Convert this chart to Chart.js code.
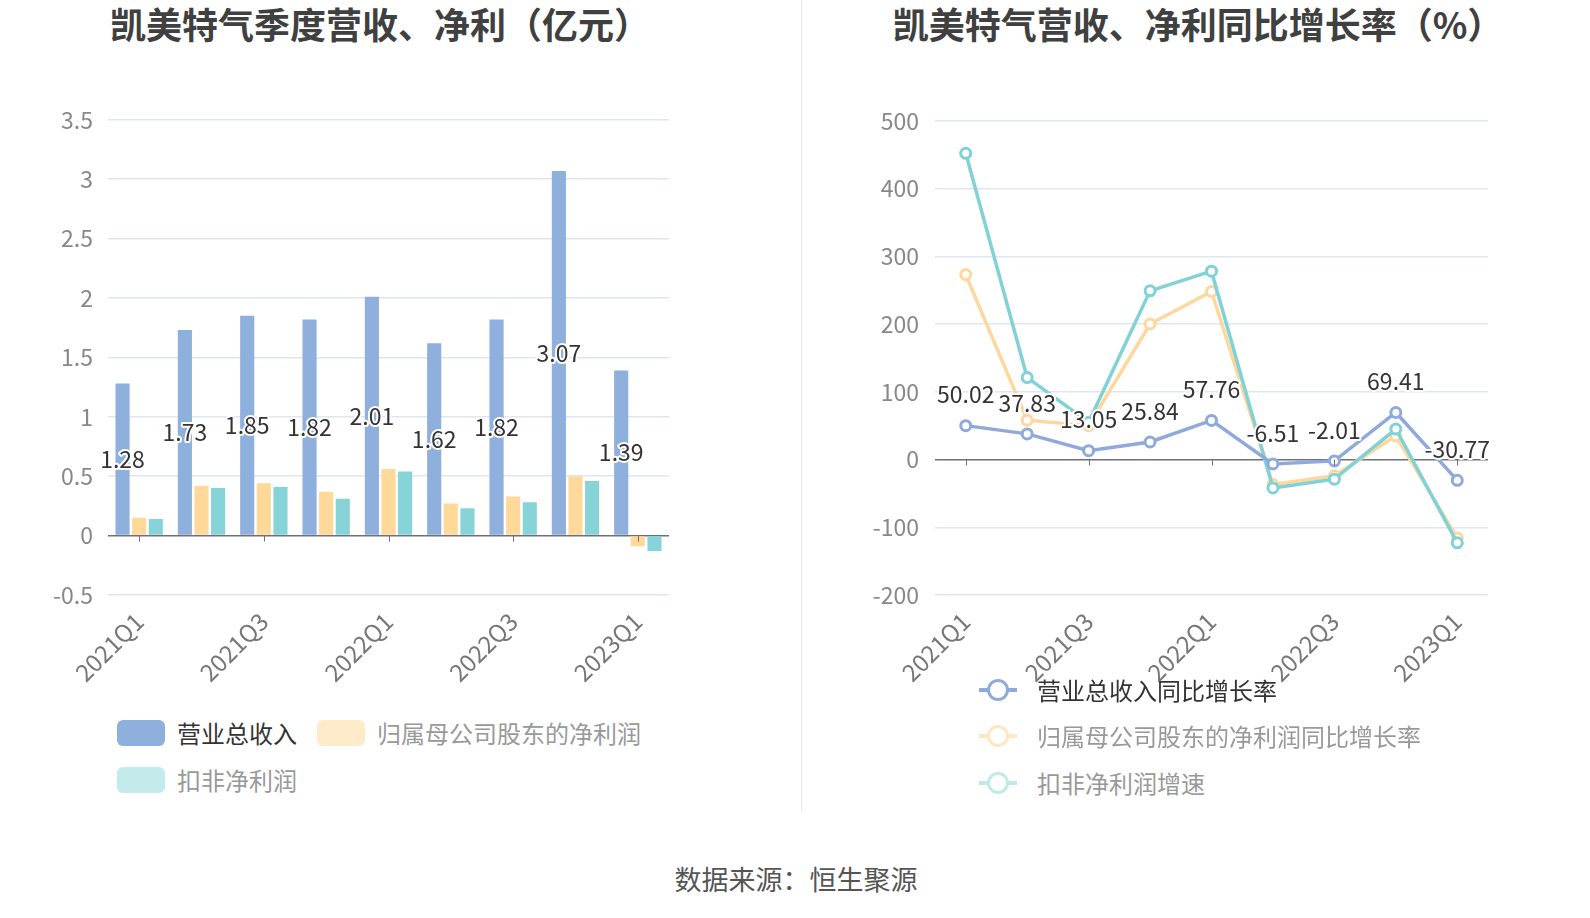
<!DOCTYPE html>
<html>
<head>
<meta charset="utf-8">
<script src="https://cdn.jsdelivr.net/npm/chart.js@4.4.0/dist/chart.umd.min.js"></script>
<style>
    body { margin: 0; width: 1590px; height: 918px; background: #fff; position: relative; overflow: hidden;
           font-family: "Noto Sans CJK SC", "Noto Sans", sans-serif; }
    .title { position: absolute; top: -3px; font-size: 36px; font-weight: bold; color: #404040; white-space: nowrap;
             transform: translateX(-50%); }
    .divider { position: absolute; left: 801px; top: 0; width: 1px; height: 811px; background: #e6e6e6; }
    .box { position: absolute; }
    .legend-item { position: absolute; display: flex; align-items: center; font-size: 24px; color: #999; white-space: nowrap; }
    .legend-item.active { color: #333; }
    .patch { width: 48px; height: 26px; border-radius: 6px; margin-right: 12px; }
    .lineicon { position: relative; width: 38px; height: 24px; margin-right: 20px; }
    .lineicon::before { content: ''; position: absolute; left: 0; right: 0; top: 10px; height: 4px; background: var(--c); }
    .lineicon::after { content: ''; position: absolute; left: 8px; top: 1px; width: 16px; height: 16px; border-radius: 50%;
                       border: 3px solid var(--c); background: #fff; }
    .source { position: absolute; left: 796px; top: 859px; transform: translateX(-50%); font-size: 27px; color: #555; white-space: nowrap; }
</style>
</head>
<body>
<div class="title" style="left:380px">凯美特气季度营收、净利（亿元）</div>
<div class="title" style="left:1198px">凯美特气营收、净利同比增长率（%）</div>
<div class="divider"></div>

<div class="box" style="left:0;top:91px;width:790px;height:600px"><canvas id="barChart"></canvas></div>
<div class="box" style="left:800px;top:91px;width:790px;height:600px"><canvas id="lineChart"></canvas></div>

<div class="legend-item active" style="left:117px;top:715px"><span class="patch" style="background:#8fafdc"></span>营业总收入</div>
<div class="legend-item" style="left:317px;top:715px"><span class="patch" style="background:#ffebc9"></span>归属母公司股东的净利润</div>
<div class="legend-item" style="left:117px;top:762px"><span class="patch" style="background:#c3ebec"></span>扣非净利润</div>

<div class="legend-item active" style="left:979px;top:672px"><span class="lineicon" style="--c:#8eaadc"></span>营业总收入同比增长率</div>
<div class="legend-item" style="left:979px;top:718px"><span class="lineicon" style="--c:#ffe7c2"></span>归属母公司股东的净利润同比增长率</div>
<div class="legend-item" style="left:979px;top:765px"><span class="lineicon" style="--c:#bfe9ea"></span>扣非净利润增速</div>

<div class="source">数据来源：恒生聚源</div>

<script>
const quarters = ['2021Q1', '2021Q2', '2021Q3', '2021Q4', '2022Q1', '2022Q2', '2022Q3', '2022Q4', '2023Q1'];
const revenue = [1.28, 1.73, 1.85, 1.82, 2.01, 1.62, 1.82, 3.07, 1.39];
const netProfit = [0.15, 0.42, 0.44, 0.37, 0.56, 0.27, 0.33, 0.50, -0.09];
const deductedProfit = [0.14, 0.40, 0.41, 0.31, 0.54, 0.23, 0.28, 0.46, -0.13];
const revenueGrowth = [50.02, 37.83, 13.05, 25.84, 57.76, -6.51, -2.01, 69.41, -30.77];
const profitGrowth = [273, 58, 50, 200, 248, -37, -24, 35, -116];
const deductedGrowth = [452, 121, 55, 249, 278, -42, -29, 45, -123];

const colors = {
    blue: '#8fafdc',
    orange: '#ffd99a',
    teal: '#86d4d8',
    lineBlue: '#8eaadc',
    lineOrange: '#ffd79c',
    lineTeal: '#80d2d6',
    grid: '#e0e6f1',
    axis: '#6e7079',
    tick: '#888',
    label: '#333',
};
const FONT = '"Noto Sans CJK SC", "Noto Sans", sans-serif';

Chart.defaults.responsive = true;
Chart.defaults.maintainAspectRatio = false;
Chart.defaults.animation = false;
Chart.defaults.font.family = FONT;

// zero axis line with small tick marks every other category, plus value labels on the first dataset
const decorations = {
    id: 'decorations',
    afterDatasetsDraw(chart, args, opts) {
        const { ctx, scales: { x, y } } = chart;
        const zero = y.getPixelForValue(0);
        ctx.save();
        ctx.strokeStyle = colors.axis;
        ctx.lineWidth = 1;
        for (let i = 0; i < quarters.length; i += 2) {
            const px = Math.round(x.getPixelForValue(i)) + 0.5;
            ctx.beginPath();
            ctx.moveTo(px, zero);
            ctx.lineTo(px, zero + 6);
            ctx.stroke();
        }
        const meta = chart.getDatasetMeta(0);
        const values = chart.data.datasets[0].data;
        ctx.font = '23px ' + FONT;
        ctx.textAlign = 'center';
        ctx.textBaseline = 'middle';
        ctx.lineWidth = 4;
        ctx.lineJoin = 'round';
        ctx.strokeStyle = '#fff';
        ctx.fillStyle = colors.label;
        meta.data.forEach((el, i) => {
            const text = values[i].toFixed(2);
            const ly = opts.mode === 'inside' ? (el.y + el.base) / 2 : el.y - 31;
            ctx.strokeText(text, el.x, ly);
            ctx.fillText(text, el.x, ly);
        });
        ctx.restore();
    },
};

const xAxis = (height) => ({
    grid: { display: false },
    border: { display: false },
    afterFit(scale) { scale.height = height; },
    ticks: {
        autoSkip: false,
        minRotation: 45,
        maxRotation: 45,
        padding: 4,
        color: '#777',
        font: { size: 24 },
        callback(value, index) { return index % 2 === 0 ? quarters[index] : ''; },
    },
});

const yAxis = (min, max, step, width, pad) => ({
    min, max,
    border: { display: false },
    afterFit(scale) { scale.width = width; },
    grid: {
        drawTicks: false,
        color: (c) => (c.tick.value === 0 ? colors.axis : colors.grid),
        lineWidth: 1.5,
    },
    ticks: {
        stepSize: step,
        padding: pad,
        color: colors.tick,
        font: { size: 23 },
        callback: (v) => String(+v.toFixed(1)),
    },
});

new Chart(document.getElementById('barChart'), {
    type: 'bar',
    data: {
        labels: quarters,
        datasets: [
            { label: '营业总收入', data: revenue, backgroundColor: colors.blue },
            { label: '归属母公司股东的净利润', data: netProfit, backgroundColor: colors.orange },
            { label: '扣非净利润', data: deductedProfit, backgroundColor: colors.teal },
        ],
    },
    options: {
        layout: { padding: { top: 11, right: 121, left: 0, bottom: 0 } },
        datasets: { bar: { categoryPercentage: 0.8, barPercentage: 0.85 } },
        plugins: { legend: { display: false }, tooltip: { enabled: false }, decorations: { mode: 'inside' } },
        scales: {
            x: xAxis(96),
            y: yAxis(-0.5, 3.5, 0.5, 108, 15),
        },
    },
    plugins: [decorations],
});

const lineSet = (label, data, color, order) => ({
    label, data, order,
    borderColor: color,
    backgroundColor: color,
    borderWidth: 3.5,
    pointRadius: 5,
    pointBorderWidth: 3,
    pointBackgroundColor: '#fff',
    pointBorderColor: color,
    tension: 0,
});

new Chart(document.getElementById('lineChart'), {
    type: 'line',
    data: {
        labels: quarters,
        datasets: [
            lineSet('营业总收入同比增长率', revenueGrowth, colors.lineBlue, 0),
            lineSet('归属母公司股东的净利润同比增长率', profitGrowth, colors.lineOrange, 2),
            lineSet('扣非净利润增速', deductedGrowth, colors.lineTeal, 1),
        ],
    },
    options: {
        layout: { padding: { top: 11, right: 102, left: 0, bottom: 0 } },
        plugins: { legend: { display: false }, tooltip: { enabled: false }, decorations: { mode: 'above' } },
        scales: {
            x: { ...xAxis(96), offset: true },
            y: yAxis(-200, 500, 100, 135, 16),
        },
    },
    plugins: [decorations],
});
</script>
</body>
</html>
